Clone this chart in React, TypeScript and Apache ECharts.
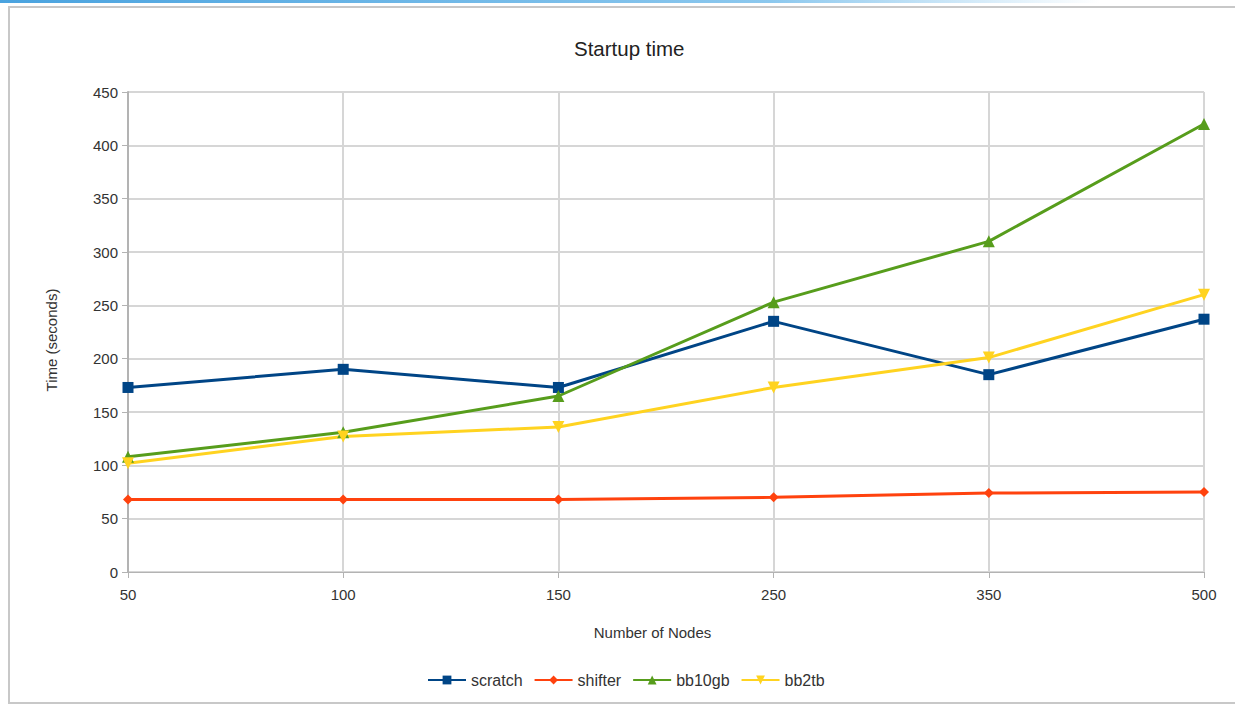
import React, { useEffect, useRef } from "react";
import * as echarts from "echarts";

const categories = ["50", "100", "150", "250", "350", "500"];
const scratch = [173, 190, 173, 235, 185, 237];
const shifter = [68, 68, 68, 70, 74, 75];
const bb10gb = [108, 131, 165, 253, 310, 420];
const bb2tb = [102, 127, 136, 173, 201, 260];
const yTicks = { min: 0, max: 450, interval: 50 };

const FONT = "Liberation Sans, Arial, sans-serif";

export default function App() {
  const ref = useRef<HTMLDivElement>(null);
  useEffect(() => {
    const chart = echarts.init(ref.current!, null, { renderer: "svg" });
    const mk = (name: string, data: number[], color: string, symbol: string, size: number, rotate = 0) => ({
      name,
      type: "line",
      data,
      symbol,
      symbolSize: size,
      symbolRotate: rotate,
      showAllSymbol: true,
      lineStyle: { color, width: 3 },
      itemStyle: { color },
      emphasis: { disabled: true },
    });
    chart.setOption({
      animation: false,
      backgroundColor: "#ffffff",
      title: {
        text: "Startup time",
        left: 569,
        top: 33,
        textStyle: { fontFamily: FONT, fontSize: 20.5, fontWeight: "normal", color: "#222" },
      },
      graphic: [
        {
          type: "rect",
          shape: { x: 0, y: 0, width: 1100, height: 3 },
          style: {
            fill: new echarts.graphic.LinearGradient(0, 0, 1, 0, [
              { offset: 0, color: "#4aa3df" },
              { offset: 0.7, color: "#8cc8ee" },
              { offset: 1, color: "#ffffff" },
            ]),
          },
          silent: true,
        },
        {
          type: "rect",
          shape: { x: 9, y: 7, width: 1240, height: 696 },
          style: { fill: "none", stroke: "#c8c8c8", lineWidth: 2 },
          silent: true,
        },
      ],
      legend: {
        left: 422,
        top: 667,
        itemWidth: 38,
        itemHeight: 11,
        itemGap: 11,
        textStyle: { fontFamily: FONT, fontSize: 16, color: "#333" },
        data: ["scratch", "shifter", "bb10gb", "bb2tb"],
      },
      grid: { left: 128, right: 31, top: 92, bottom: 136, containLabel: false },
      xAxis: {
        type: "category",
        data: categories,
        boundaryGap: false,
        name: "Number of Nodes",
        nameLocation: "middle",
        nameGap: 53,
        nameTextStyle: { fontFamily: FONT, fontSize: 15, color: "#333", padding: [0, 27, 0, 0] },
        axisLine: { lineStyle: { color: "#b3b3b3", width: 1 } },
        axisTick: { show: true, length: 6, lineStyle: { color: "#b3b3b3" } },
        axisLabel: { margin: 15, fontFamily: FONT, fontSize: 15, color: "#333" },
        splitLine: { show: true, lineStyle: { color: "#d6d6d6", width: 2 } },
      },
      yAxis: {
        type: "value",
        min: yTicks.min,
        max: yTicks.max,
        interval: yTicks.interval,
        name: "Time (seconds)",
        nameLocation: "middle",
        nameGap: 69,
        nameTextStyle: { fontFamily: FONT, fontSize: 15, color: "#333", padding: [0, 16, 0, 0] },
        axisLine: { show: true, lineStyle: { color: "#b3b3b3", width: 2 } },
        axisTick: { show: true, length: 6, lineStyle: { color: "#b3b3b3" } },
        axisLabel: { margin: 10, fontFamily: FONT, fontSize: 15, color: "#333" },
        splitLine: { show: true, lineStyle: { color: "#d6d6d6", width: 2 } },
      },
      series: [
        mk("scratch", scratch, "#004586", "rect", 11),
        mk("shifter", shifter, "#ff420e", "diamond", 10),
        mk("bb10gb", bb10gb, "#579d1c", "triangle", 12),
        mk("bb2tb", bb2tb, "#ffd320", "triangle", 12, 180),
      ],
    });
    return () => chart.dispose();
  }, []);
  return (
    <div
      ref={ref}
      style={{ position: "fixed", left: 0, top: 0, width: 1235, height: 708 }}
    />
  );
}
